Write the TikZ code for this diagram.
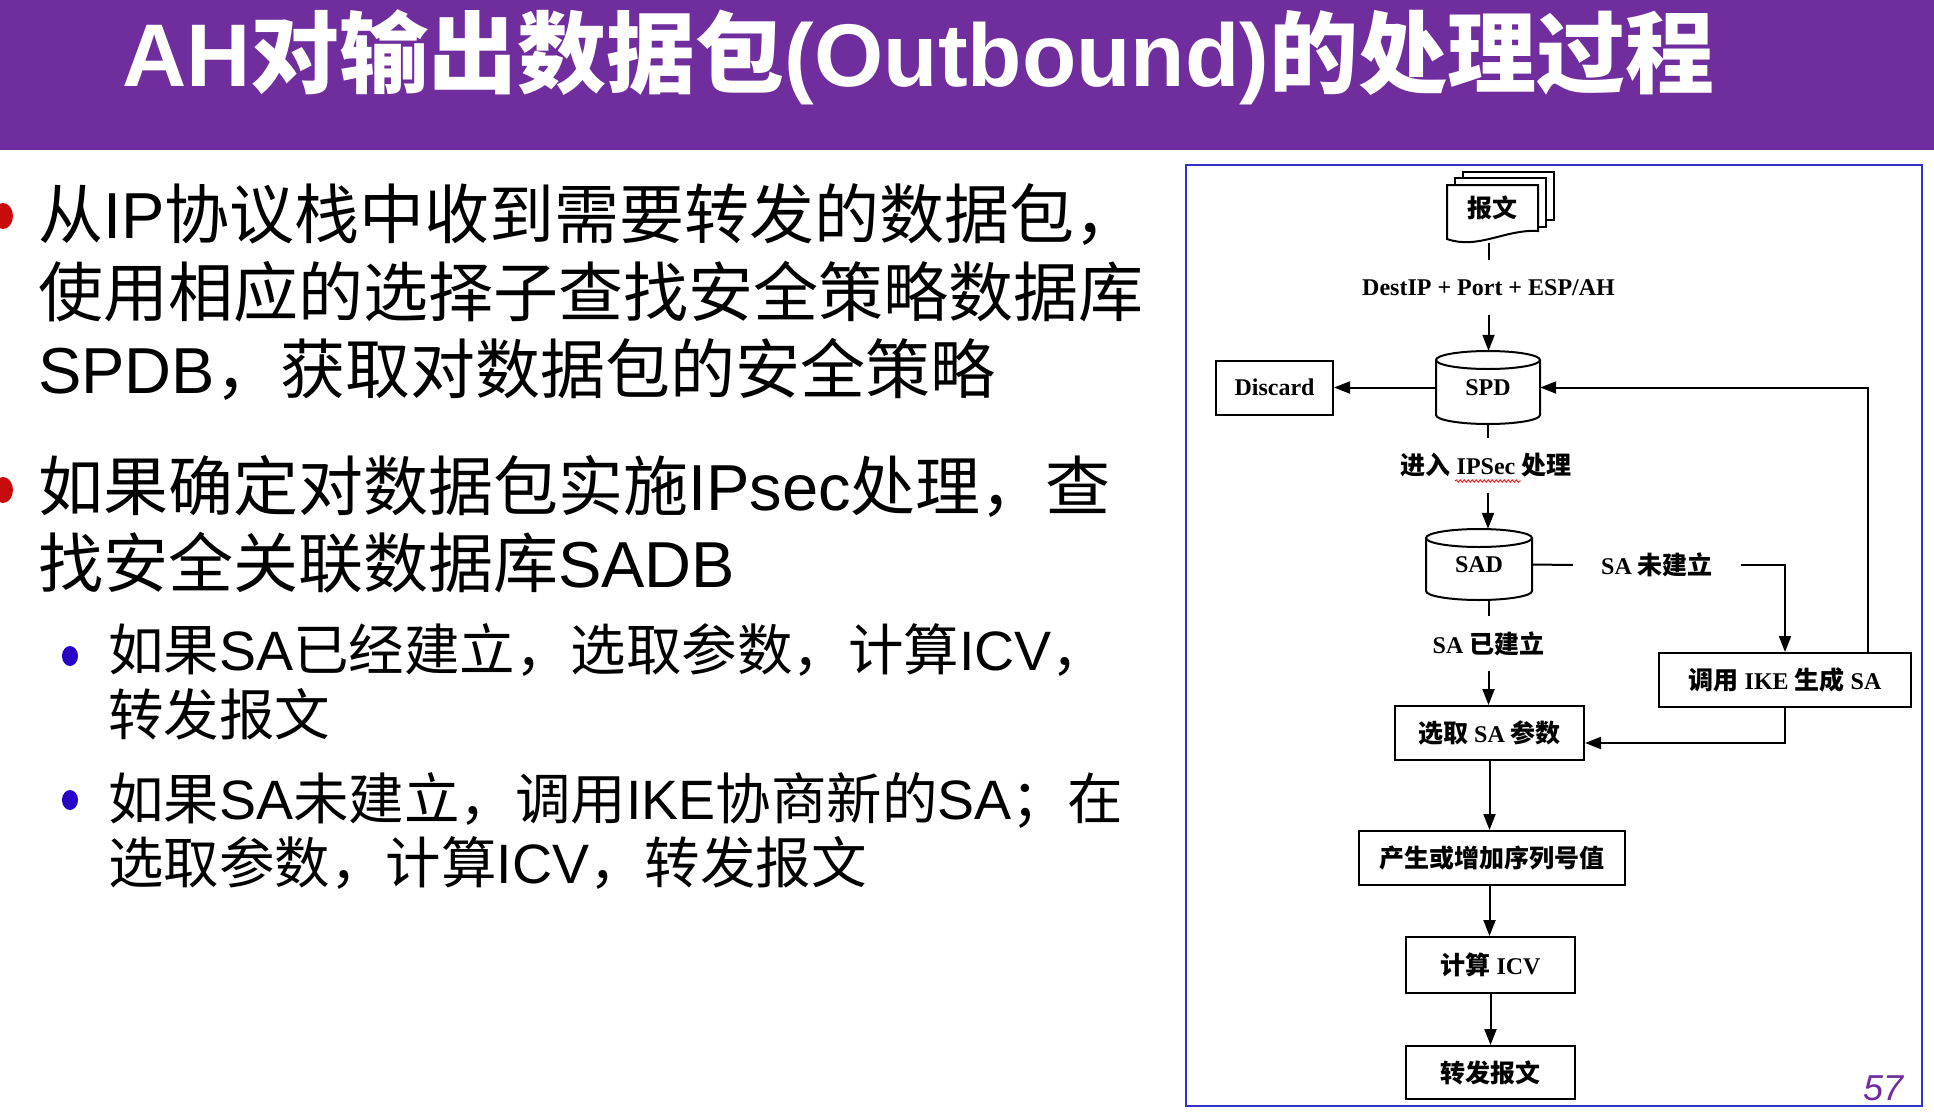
\documentclass[tikz,border=0pt]{standalone}
\usepackage{fontspec}
\setmainfont{Liberation Sans}
\newfontfamily\cjk{Noto Sans CJK SC}
\newfontfamily\serf{Liberation Serif}
\usetikzlibrary{arrows.meta,calc,decorations.pathmorphing}
\definecolor{titlepurple}{RGB}{112,45,158}
\definecolor{bulred}{RGB}{200,12,12}
\definecolor{bulblue}{RGB}{40,0,200}
\definecolor{frameblue}{RGB}{50,50,200}
\newcommand\zh[1]{{\cjk #1}}
\newcommand\enx[1]{{\rmfamily #1}}
\newcommand\myL[1]{{\serf\bfseries\fontsize{24}{28}\selectfont #1}}
\newcommand\myC[1]{{\cjk\bfseries\fontsize{25}{28}\selectfont #1}}
\newcommand\mycyl[4]{%
  \draw[line width=2pt, fill=white] (#1-#4,#2+9) -- (#1-#4,#3-9) arc[start angle=180, end angle=360, x radius=#4pt, y radius=9pt] -- (#1+#4,#2+9);
  \draw[line width=2pt] (#1,#2+9) ellipse[x radius=#4pt, y radius=9pt];}
\tikzset{
  mainline/.style={anchor=base west, inner sep=0pt, font=\fontsize{65}{78}\selectfont},
  subline/.style={anchor=base west, inner sep=0pt, font=\fontsize{55.5}{64}\selectfont\cjk},
  dfont/.style={font=\serf\bfseries\fontsize{24}{28}\selectfont},
  box/.style={dfont, draw, line width=2pt, minimum height=54pt, inner sep=0pt, fill=white},
  lab/.style={dfont, inner sep=0pt, minimum height=54pt},
  ln/.style={line width=2pt},
  arr/.style={line width=2pt, -{Triangle[length=16pt,width=12pt]}},
}
\begin{document}
\begin{tikzpicture}[x=1pt,y=-1pt]
\useasboundingbox (0,0) rectangle (1934,1116);
\fill[white] (0,0) rectangle (1934,1116);
% title bar
\fill[titlepurple] (0,0) rectangle (1934,150);
\node[anchor=base west, inner sep=0pt, text=white, font=\fontsize{89}{100}\selectfont\bfseries] (title) at (122,86)
  {AH\zh{对输出数据包}(Outbound)\zh{的处理过程}};
% left text
\fill[bulred] (3,216) ellipse[x radius=10pt, y radius=13pt];
\fill[bulred] (3,490) ellipse[x radius=10pt, y radius=13pt];
\node[mainline] (t1) at (38,238) {\zh{从}IP\zh{协议栈中收到需要转发的数据包，}};
\node[mainline] (t2) at (38,316) {\zh{使用相应的选择子查找安全策略数据库}};
\node[mainline] (t3) at (38,393) {SPDB\zh{，获取对数据包的安全策略}};
\node[mainline] (t4) at (38,510) {\zh{如果确定对数据包实施}IPsec\zh{处理，查}};
\node[mainline] (t5) at (38,587) {\zh{找安全关联数据库}SADB};
\fill[bulblue] (70,656) ellipse[x radius=8pt, y radius=10pt];
\fill[bulblue] (70,800) ellipse[x radius=8pt, y radius=10pt];
\node[subline] (s1) at (108,670) {如果\enx{SA}已经建立，选取参数，计算\enx{ICV}，};
\node[subline] (s2) at (108,735) {转发报文};
\node[subline] (s3) at (108,819) {如果\enx{SA}未建立，调用\enx{IKE}协商新的\enx{SA}；在};
\node[subline] (s4) at (108,883) {选取参数，计算\enx{ICV}，转发报文};
% frame
\draw[frameblue, line width=2pt] (1186,165) rectangle (1922,1106);
% document stack
\draw[line width=2pt, fill=white] (1463,178) -- (1463,172) -- (1554,172) -- (1554,220) -- (1546,220);
\draw[line width=2pt, fill=white] (1455,185) -- (1455,178) -- (1546,178) -- (1546,227) -- (1538,227);
\draw[line width=2pt, fill=white] (1447,185) -- (1538,185) -- (1538,231) .. controls (1505,229) and (1478,250) .. (1447,239) -- cycle;
\node[inner sep=0pt] (doc) at (1492,208) {\myC{报文}};
\coordinate (docb) at (1488.5,243);
% cylinders
\mycyl{1488}{351}{424}{52}
\mycyl{1479}{529}{600}{53}
% nodes
\node[lab] (l1) at (1488.5,287.5) {\myL{DestIP + Port + ESP/AH}};
\node[lab, minimum width=104pt, minimum height=73pt] (spd) at (1488,387.5) {\raisebox{-3pt}{\myL{SPD}}};
\node[box, minimum width=117pt] (discard) at (1274.5,387.5) {\myL{Discard}};
\node[lab] (l2) at (1486,465.5) {\myC{进入} \myL{IPSec} \myC{处理}};
\node[lab, minimum width=106pt, minimum height=71pt] (sad) at (1479,564.5) {\raisebox{-4pt}{\myL{SAD}}};
\node[lab, inner xsep=28pt] (sano) at (1657,565) {\myL{SA} \myC{未建立}};
\node[lab] (l3) at (1488.5,643.5) {\myL{SA} \myC{已建立}};
\node[box, minimum width=189pt] (sel) at (1489.5,733) {\myC{选取} \myL{SA} \myC{参数}};
\node[box, minimum width=252pt] (ike) at (1785,680) {\myC{调用} \myL{IKE} \myC{生成} \myL{SA}};
\node[box, minimum width=266pt] (gen) at (1492,858) {\myC{产生或增加序列号值}};
\node[box, minimum width=169pt, minimum height=56pt] (icv) at (1490.5,965) {\myC{计算} \myL{ICV}};
\node[box, minimum width=169pt, minimum height=53pt] (fwd) at (1490.5,1072.5) {\myC{转发报文}};
\draw[red, line width=0.8pt, decorate, decoration={snake, amplitude=1.2pt, segment length=4pt}] (1455,481) -- (1521,481);
% connectors
\draw[ln] (docb) -- (docb |- l1.north);
\draw[arr] (l1.south) -- (l1.south |- spd.north);
\draw[arr] (spd.west) -- (discard.east);
\coordinate (fb) at (1868,387.5);
\draw[arr] (ike.north -| fb) -- (fb) -- (spd.east);
\draw[ln] (spd.south) -- (spd.south |- l2.north);
\draw[arr] (spd.south |- l2.south) -- (spd.south |- sad.north);
\draw[ln] (sad.east) -- (sano.west);
\draw[arr] (sano.east) -| (ike.north);
\draw[ln] (l3.north |- sad.south) -- (l3.north);
\draw[arr] (l3.south) -- (l3.south |- sel.north);
\coordinate (ret) at (1785,743);
\draw[arr] (ike.south) -- (ret) -- (ret -| sel.east);
\draw[arr] (sel.south) -- (sel.south |- gen.north);
\draw[arr] (sel.south |- gen.south) -- (sel.south |- icv.north);
\draw[arr] (icv.south) -- (fwd.north);
% page number
\node[text=titlepurple, inner sep=0pt, font=\fontsize{36}{40}\selectfont\itshape] (pg) at (1883,1088) {57};
\end{tikzpicture}
\end{document}
